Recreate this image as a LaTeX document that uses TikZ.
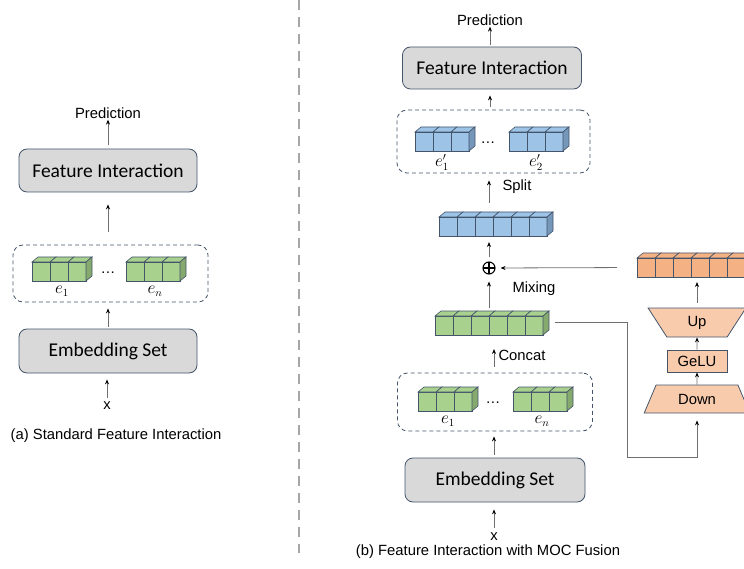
\documentclass[tikz,border=0pt]{standalone}
\usepackage{fontspec}
\setmainfont{Liberation Sans}
\newfontfamily\boxfont{Carlito}
\usetikzlibrary{arrows.meta,shapes.geometric,positioning}

\definecolor{boxgray}{HTML}{D9D9D9}
\definecolor{slate}{HTML}{44546A}
\definecolor{cellgreen}{HTML}{A9D18E}
\definecolor{sidegreen}{HTML}{86A96E}
\definecolor{cellblue}{HTML}{9DC3E6}
\definecolor{sideblue}{HTML}{7597BA}
\definecolor{cellorange}{HTML}{F4B183}
\definecolor{sideorange}{HTML}{D0936A}
\definecolor{peach}{HTML}{F8CBAD}
\definecolor{linegray}{HTML}{6F6F6F}
\definecolor{sepgray}{HTML}{A6A6A6}

\tikzset{
  blockbox/.style={draw=slate, fill=boxgray, rounded corners=8pt, line width=0.8pt,
    font=\boxfont\fontsize{19.5}{23}\selectfont, inner sep=0pt},
  groupbox/.style={draw=slate, dash pattern=on 4pt off 3pt, rounded corners=10pt,
    line width=0.8pt, inner sep=0pt},
  rowbox/.style={inner sep=0pt, outer sep=0pt},
  lbl/.style={font=\fontsize{14.8}{17}\selectfont, inner sep=1pt},
  mathlbl/.style={font=\fontsize{16}{18}\selectfont, inner sep=1pt},
  arr/.style={draw=linegray, line width=0.8pt, -{Stealth[length=5pt,width=4pt,black]}},
  adapter/.style={draw=slate, fill=peach, line width=0.8pt, inner sep=0pt,
    font=\fontsize{14.8}{17}\selectfont},
  sep/.style={draw=sepgray, line width=1.6pt, dash pattern=on 10pt off 7pt},
}

% row of cubes: name, top left of the front (x,y), cells, front colour, side colour
\newcommand{\cuberow}[6]{%
  \node[rowbox, anchor=north west, minimum width=#4*18pt, minimum height=19pt] (#1) at (#2,#3) {};
  \foreach \i in {1,...,#4}{
    \pgfmathsetmacro{\cx}{#2+(\i-1)*18}
    \draw[draw=slate, fill=#5, line width=0.6pt] (\cx,#3) rectangle ++(18,19);
    \draw[draw=slate, fill=#5, line width=0.6pt] (\cx,#3) -- ++(6,-5) -- ++(18,0) -- ++(-6,5) -- cycle;
  }
  \draw[draw=slate, fill=#6, line width=0.6pt] (#1.north east) -- ++(6,-5) -- ++(0,19) -- (#1.south east) -- cycle;
}

\begin{document}
\begin{tikzpicture}[x=1pt,y=-1pt]
\clip (0,0) rectangle (744,569);

% (a) standard
\node[lbl] (predA) at (108,113) {Prediction};
\node[blockbox, minimum width=178pt, minimum height=43pt] (fiA) at (108,170.5) {Feature Interaction};
\node[groupbox, minimum width=195pt, minimum height=57pt] (dashA) at (110.5,273.5) {};
\cuberow{ga}{32}{262}{3}{cellgreen}{sidegreen}
\cuberow{gb}{126}{262}{3}{cellgreen}{sidegreen}
\node[lbl] (dotsA) at (108,273) {\dots};
\node[mathlbl, below=4pt of ga, xshift=3pt] (ea) {$e_1$};
\node[mathlbl, below=4pt of gb, xshift=2pt] (eb) {$e_n$};
\node[blockbox, minimum width=178pt, minimum height=44pt] (embA) at (108,351) {Embedding Set};
\node[lbl] (xA) at (107,406) {x};
\node[lbl] (capA) at (116,436) {(a) Standard Feature Interaction};

\draw[arr, shorten <=4pt] (fiA.north) -- (predA.south);
\draw[arr, shorten <=13pt, shorten >=12pt] (dashA.north -| fiA) -- (fiA.south);
\draw[arr, shorten <=2pt, shorten >=6pt] (embA.north) -- (embA.north |- dashA.south);
\draw[arr, shorten <=3pt, shorten >=6pt] (xA.north) -- (xA.north |- embA.south);

% separator
\draw[sep] (299,0) -- (299,553);

% (b) with MOC fusion
\node[lbl] (predB) at (490,20) {Prediction};
\node[blockbox, minimum width=179pt, minimum height=42pt] (fiB) at (492,68) {Feature Interaction};
\node[groupbox, minimum width=193pt, minimum height=63pt] (dashB) at (493.5,141.5) {};
\cuberow{ba}{415}{132}{3}{cellblue}{sideblue}
\cuberow{bb}{509}{132}{3}{cellblue}{sideblue}
\node[lbl] (dotsB) at (488,143) {\dots};
\node[mathlbl, below=2pt of ba] (eba) {$e'_1$};
\node[mathlbl, below=2pt of bb] (ebb) {$e'_2$};
\cuberow{bbar}{439}{217}{6}{cellblue}{sideblue}
\node[circle, draw=black, line width=1.1pt, minimum size=12pt, inner sep=0pt,
  path picture={\draw[line width=1.1pt] (path picture bounding box.north) -- (path picture bounding box.south)
    (path picture bounding box.west) -- (path picture bounding box.east);}] (mix) at (489,268) {};
\cuberow{gbar}{435}{316}{6}{cellgreen}{sidegreen}
\node[groupbox, minimum width=195pt, minimum height=58pt] (dashC) at (495,402) {};
\cuberow{gc}{418}{392}{3}{cellgreen}{sidegreen}
\cuberow{gd}{513}{392}{3}{cellgreen}{sidegreen}
\node[lbl] (dotsC) at (493,403) {\dots};
\node[mathlbl, below=4pt of gc, xshift=3pt] (ec) {$e_1$};
\node[mathlbl, below=4pt of gd, xshift=2pt] (ed) {$e_n$};
\node[blockbox, minimum width=180pt, minimum height=44pt] (embB) at (495,480) {Embedding Set};
\node[lbl] (xB) at (494,537) {x};
\node[lbl] (capB) at (488,552) {(b) Feature Interaction with MOC Fusion};

\node[lbl] (split) at (517,187) {Split};
\node[lbl] (mixing) at (534,289) {Mixing};
\node[lbl] (concat) at (522,355) {Concat};

% adapter branch
\cuberow{obar}{637}{258}{6}{cellorange}{sideorange}
\node[adapter, trapezium, shape border rotate=180, trapezium stretches=true,
  trapezium left angle=66, trapezium right angle=66,
  minimum width=98pt, minimum height=29pt] (up) at (697,322.5) {Up};
\node[adapter, minimum width=60pt, minimum height=22pt] (gelu) at (697,361) {GeLU};
\node[adapter, trapezium, trapezium stretches=true,
  trapezium left angle=62, trapezium right angle=62,
  minimum width=106pt, minimum height=28pt] (down) at (697,399) {Down};
\coordinate (bend) at (627,457);

\draw[arr, shorten <=2pt] (fiB.north -| predB) -- (predB.south);
\draw[arr, shorten <=3pt, shorten >=6pt] (dashB.north -| predB) -- (predB |- fiB.south);
\draw[arr, shorten <=14pt, shorten >=7pt] (mix |- bbar.north) -- (mix |- dashB.south);
\draw[arr, shorten <=4pt, shorten >=6pt] (mix.north) -- (mix |- bbar.south);
\draw[arr, shorten <=8pt, shorten >=7pt] (mix |- gbar.north) -- (mix.south);
\draw[arr, shorten <=6pt, shorten >=14pt] (dashC.north -| xB) -- (xB |- gbar.south);
\draw[arr, shorten <=3pt, shorten >=5pt] (embB.north -| xB) -- (xB |- dashC.south);
\draw[arr, shorten <=4pt, shorten >=7pt] (xB.north) -- (xB |- embB.south);
\draw[arr, shorten <=20pt, shorten >=5pt] (obar.west) -- (mix.east);
\draw[arr, shorten <=5pt, shorten >=5pt] (up.north) -- (up.north |- obar.south);
\draw[arr] (gelu.north) -- (up.south);
\draw[arr] (down.north) -- (gelu.south);
\draw[arr, shorten >=7pt] ([xshift=12pt,yshift=3pt]gbar.east) -| (bend) -| (down.south);
\end{tikzpicture}
\end{document}
